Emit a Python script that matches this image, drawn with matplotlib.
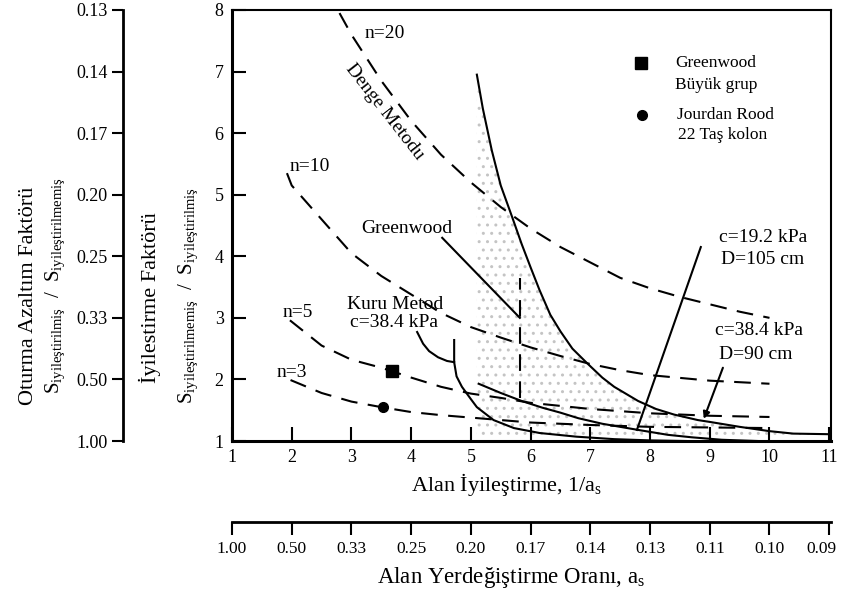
import matplotlib.pyplot as plt
from matplotlib.transforms import ScaledTranslation

plt.rcParams['font.family'] = ['Liberation Serif', 'DejaVu Serif']
plt.rcParams['mathtext.fontset'] = 'custom'
plt.rcParams['mathtext.rm'] = 'Liberation Serif'
plt.rcParams['mathtext.it'] = 'Liberation Serif:italic'
plt.rcParams['hatch.color'] = '#c4c4c4'

# dashed n-curves (improvement factor vs area ratio)
n20_x = [2.8, 3.0, 3.5, 4.0, 4.5, 5.0, 5.5, 6.0, 6.5, 7.0, 7.5, 8.0, 8.5, 9.0, 9.5, 10.0]
n20_y = [7.95, 7.6, 6.85, 6.2, 5.65, 5.2, 4.8, 4.45, 4.15, 3.9, 3.65, 3.48, 3.34, 3.22, 3.1, 3.0]
n10_x = [1.92, 2.0, 2.5, 3.0, 3.5, 4.0, 4.5, 5.0, 5.5, 6.0, 6.5, 7.0, 7.5, 8.0, 9.0, 10.0]
n10_y = [5.35, 5.15, 4.6, 4.05, 3.68, 3.38, 3.08, 2.85, 2.68, 2.52, 2.38, 2.25, 2.15, 2.07, 1.98, 1.93]
n5_x = [1.97, 2.5, 3.0, 3.5, 4.0, 4.5, 5.0, 5.5, 6.0, 6.5, 7.0, 8.0, 9.0, 10.0]
n5_y = [2.96, 2.55, 2.32, 2.19, 2.03, 1.88, 1.77, 1.70, 1.62, 1.57, 1.52, 1.45, 1.41, 1.39]
n3_x = [1.98, 2.5, 3.0, 3.5, 4.0, 4.5, 5.0, 6.0, 7.0, 8.0, 9.0, 10.0]
n3_y = [1.99, 1.78, 1.64, 1.55, 1.47, 1.42, 1.38, 1.30, 1.26, 1.23, 1.22, 1.21]

# solid curves
gw_x = [5.10, 5.2, 5.35, 5.5, 5.69, 5.85, 6.0, 6.15, 6.33, 6.5, 6.7, 6.95, 7.2, 7.4, 7.8, 8.1,
        8.4, 8.8, 9.0, 9.5, 10.0, 10.4, 11.03]
gw_y = [6.95, 6.4, 5.72, 5.15, 4.64, 4.2, 3.82, 3.45, 3.05, 2.78, 2.5, 2.26, 2.03, 1.88, 1.65, 1.52,
        1.43, 1.34, 1.31, 1.23, 1.16, 1.12, 1.11]
gl_x = [4.52, 5.82]
gl_y = [4.30, 3.00]
vd_x = [5.82, 5.82]
vd_y = [1.70, 3.65]
ka_x = [4.1, 4.2, 4.3, 4.45, 4.6, 4.72]
ka_y = [2.77, 2.58, 2.46, 2.36, 2.30, 2.28]
kc_x = [4.72, 4.72, 4.76, 4.85, 5.0, 5.1, 5.38, 5.72, 6.15, 6.77, 7.4, 8.0, 8.6]
kc_y = [2.64, 2.28, 2.05, 1.88, 1.68, 1.55, 1.34, 1.21, 1.13, 1.07, 1.03, 1.01, 1.0]
c5_x = [5.13, 5.5, 5.85, 6.2, 6.5, 6.8, 7.2, 7.8, 8.3, 8.7, 9.2, 9.8]
c5_y = [1.93, 1.78, 1.65, 1.54, 1.46, 1.37, 1.28, 1.18, 1.10, 1.06, 1.02, 1.0]
l19_x = [8.85, 7.78]
l19_y = [4.15, 1.18]

# field data
sq_x, sq_y = [3.68], [2.14]
ci_x, ci_y = [3.53], [1.55]

x_ticks = list(range(1, 12))
as_labels = ['1.00', '0.50', '0.33', '0.25', '0.20', '0.17', '0.14', '0.13', '0.11', '0.10', '0.09']
y_ticks = list(range(1, 9))
red_labels = ['1.00', '0.50', '0.33', '0.25', '0.20', '0.17', '0.14', '0.13']

W, H = 841, 597
fig = plt.figure(figsize=(W / 100, H / 100), dpi=100)
bot, hgt = 1 - 441 / H, 431 / H
ax = fig.add_axes([232 / W, bot, 599 / W, hgt])

dash = dict(color='k', lw=1.5, dashes=(8, 5))
solid = dict(color='k', lw=1.5)

ax.fill_between(gw_x, 1, gw_y, facecolor='none', edgecolor='#c4c4c4', hatch='..', linewidth=0)
for xs, ys in [(n20_x, n20_y), (n10_x, n10_y), (n5_x, n5_y), (n3_x, n3_y), (vd_x, vd_y)]:
    ax.plot(xs, ys, **dash)
for xs, ys in [(gw_x, gw_y), (gl_x, gl_y), (ka_x, ka_y), (kc_x, kc_y), (c5_x, c5_y), (l19_x, l19_y)]:
    ax.plot(xs, ys, **solid)
ax.annotate('', xy=(8.9, 1.36), xytext=(9.22, 2.19),
            arrowprops=dict(arrowstyle='-|>', lw=1.5, color='k', mutation_scale=10, shrinkA=0, shrinkB=0))

ax.plot(sq_x, sq_y, 's', color='k', ms=8)
ax.plot(ci_x, ci_y, 'o', color='k', ms=7)
ax.plot([7.85], [7.14], 's', color='k', ms=8)
ax.plot([7.87], [6.29], 'o', color='k', ms=7)

fs = 14
ax.text(3.22, 7.62, 'n=20', fontsize=fs, va='center')
ax.text(3.55, 6.35, 'Denge Metodu', rotation=-52, ha='center', va='center', fontsize=fs)
ax.text(1.97, 5.46, 'n=10', fontsize=fs, va='center')
ax.text(3.93, 4.45, 'Greenwood', fontsize=fs, ha='center', va='center')
ax.text(3.73, 3.21, 'Kuru Metod', fontsize=fs, ha='center', va='center')
ax.text(3.72, 2.92, 'c=38.4 kPa', fontsize=fs, ha='center', va='center')
ax.text(1.84, 3.09, 'n=5', fontsize=fs, va='center')
ax.text(1.75, 2.12, 'n=3', fontsize=fs, va='center')
ax.text(9.89, 4.31, 'c=19.2 kPa', fontsize=fs, ha='center', va='center')
ax.text(9.89, 3.95, 'D=105 cm', fontsize=fs, ha='center', va='center')
ax.text(9.83, 2.79, 'c=38.4 kPa', fontsize=fs, ha='center', va='center')
ax.text(9.77, 2.40, 'D=90 cm', fontsize=fs, ha='center', va='center')
ax.text(8.42, 7.14, 'Greenwood', fontsize=12.5, va='center')
ax.text(8.42, 6.79, 'Büyük grup', fontsize=12.5, va='center')
ax.text(8.45, 6.29, 'Jourdan Rood', fontsize=12.5, va='center')
ax.text(8.47, 5.97, '22 Taş kolon', fontsize=12.5, va='center')

ax.set_xlim(1, 11.03)
ax.set_ylim(1, 8)
ax.set_xticks(x_ticks)
ax.set_yticks(y_ticks)
ax.tick_params(direction='in', length=10, width=1.5, labelsize=13, pad=6)
for k, s in ax.spines.items():
    s.set_linewidth(2.2 if k in ('left', 'bottom') else 1.5)

# left scale: settlement reduction factor
axl = fig.add_axes([123 / W, bot, 0.0001, hgt])
axl.set_ylim(1, 8)
axl.set_yticks(y_ticks)
axl.set_yticklabels(red_labels)
axl.xaxis.set_visible(False)
for k in ['top', 'right', 'bottom']:
    axl.spines[k].set_visible(False)
axl.spines['left'].set_linewidth(2)
axl.patch.set_visible(False)
axl.tick_params(axis='y', direction='out', length=8, width=1.5, labelsize=13, pad=3)

# bottom scale: area replacement ratio
axb = fig.add_axes([232 / W, 1 - 522 / H, 599 / W, 0.0001])
axb.set_xlim(1, 11.03)
axb.set_xticks(x_ticks)
axb.set_xticklabels(as_labels)
axb.yaxis.set_visible(False)
for k in ['top', 'right', 'left']:
    axb.spines[k].set_visible(False)
axb.spines['bottom'].set_linewidth(2)
axb.patch.set_visible(False)
axb.tick_params(axis='x', direction='out', length=9, width=1.5, labelsize=12.5, pad=5)
last = axb.get_xticklabels()[-1]
last.set_transform(last.get_transform() + ScaledTranslation(-8 / 100, 0, fig.dpi_scale_trans))

fig.text(507 / W, 1 - 484 / H, 'Alan İyileştirme, 1/a$_\\mathregular{s}$', ha='center', va='center', fontsize=16)
fig.text(511 / W, 1 - 577 / H, 'Alan Yerdeğiştirme Oranı, a$_\\mathregular{s}$', ha='center', va='center', fontsize=16.5)
fig.text(29 / W, 1 - 296 / H, 'Oturma Azaltım Faktörü', rotation=90, ha='center', va='center', fontsize=16)
fig.text(55 / W, 1 - 285 / H, r'$\mathregular{S_{iyileştirilmiş}\ \ /\ \ S_{iyileştirilmemiş}}$',
         rotation=90, ha='center', va='center', fontsize=15)
fig.text(150 / W, 1 - 298 / H, 'İyilestirme Faktörü', rotation=90, ha='center', va='center', fontsize=16)
fig.text(188 / W, 1 - 295 / H, r'$\mathregular{S_{iyileştirilmemiş}\ \ /\ \ S_{iyileştirilmiş}}$',
         rotation=90, ha='center', va='center', fontsize=15)

fig.savefig('out.png', dpi=100)
